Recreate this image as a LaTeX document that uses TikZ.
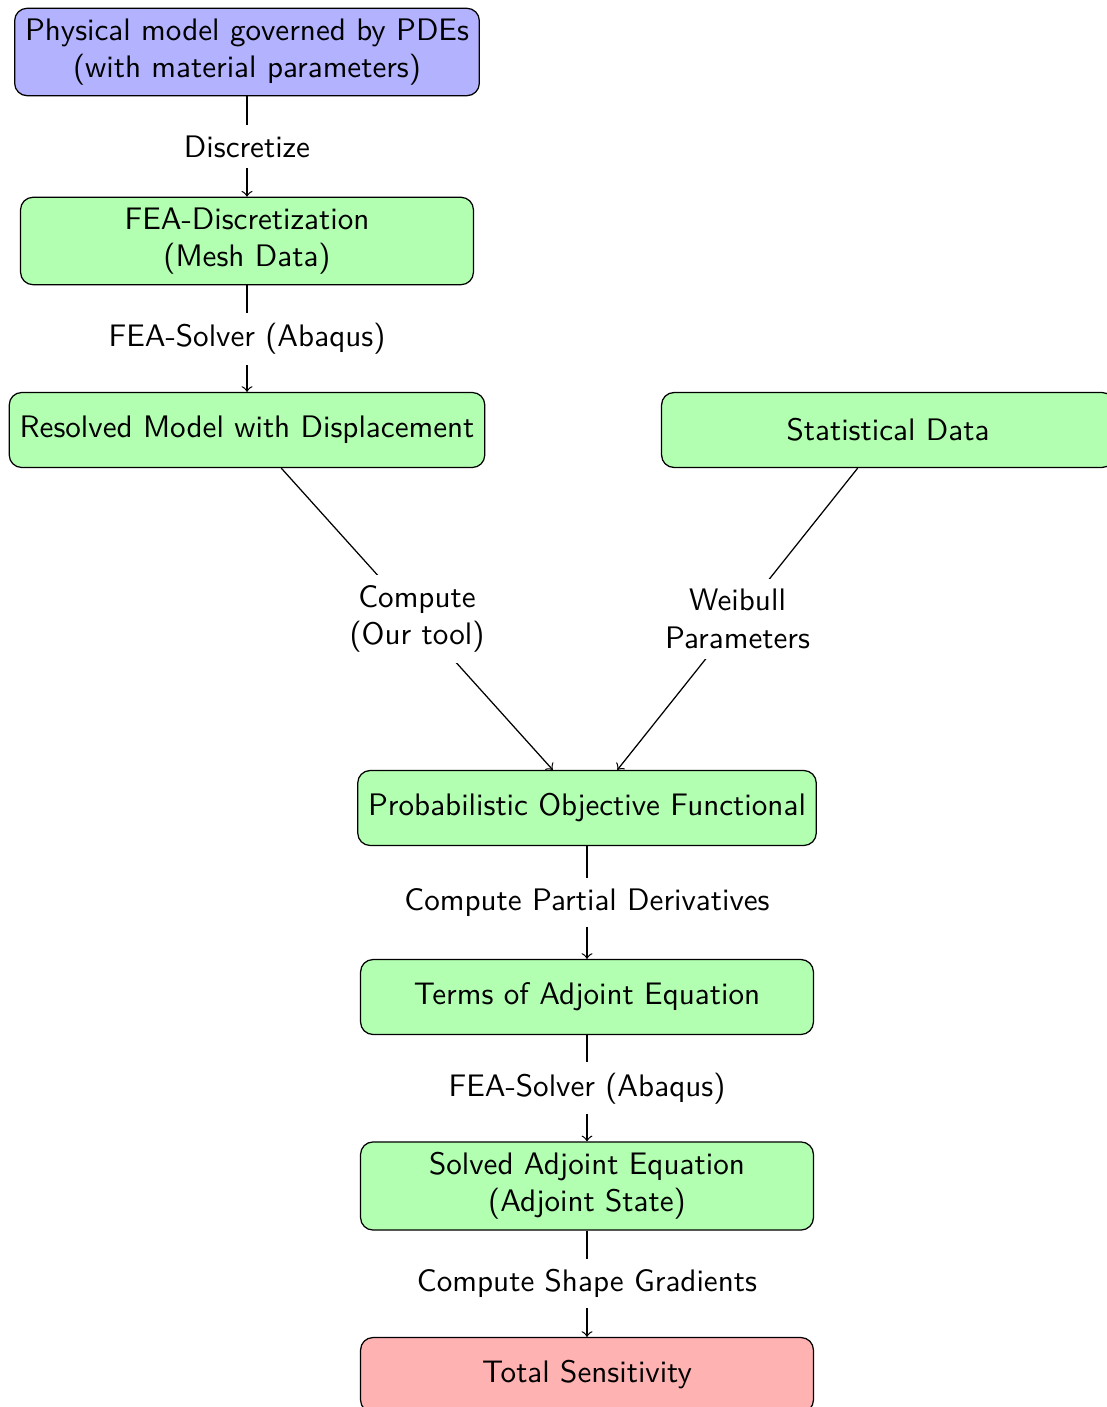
\documentclass[tikz,border=0pt]{standalone}
\usepackage{tikz}
\begin{document}
\begin{tikzpicture}[x=0.3215pt,y=-0.3215pt,
  font=\sffamily,
  box/.style={draw, rounded corners, align=center, minimum width=145.6pt, minimum height=24.1pt},
  bluebox/.style={box, fill=blue!30},
  greenbox/.style={box, fill=green!30},
  redbox/.style={box, fill=red!30},
  lbl/.style={fill=white, align=center},
  arr/.style={->}]
\path[use as bounding box] (0,0) rectangle (1107,1407);
\clip (0,0) rectangle (1107,1407);
\node[bluebox] (pde) at (247,52) {Physical model governed by PDEs\\(with material parameters)};
\node[greenbox] (fea) at (247,241) {FEA-Discretization\\(Mesh Data)};
\node[greenbox] (res) at (247,430) {Resolved Model with Displacement};
\node[greenbox] (stat) at (888,430) {Statistical Data};
\node[greenbox] (prob) at (587,808) {Probabilistic Objective Functional};
\node[greenbox] (adj) at (587,997) {Terms of Adjoint Equation};
\node[greenbox] (sol) at (587,1186) {Solved Adjoint Equation\\(Adjoint State)};
\node[redbox] (tot) at (587,1375) {Total Sensitivity};
\draw[arr] (pde) -- node[lbl] (l1) {Discretize} (fea);
\draw[arr] (fea) -- node[lbl] (l2) {FEA-Solver (Abaqus)} (res);
\draw[arr] (res) -- node[lbl] (l3) {Compute\\(Our tool)} (prob);
\draw[arr] (stat) -- node[lbl] (l4) {Weibull\\Parameters} (prob);
\draw[arr] (prob) -- node[lbl] (l5) {Compute Partial Derivatives} (adj);
\draw[arr] (adj) -- node[lbl] (l6) {FEA-Solver (Abaqus)} (sol);
\draw[arr] (sol) -- node[lbl] (l7) {Compute Shape Gradients} (tot);
\end{tikzpicture}
\end{document}
